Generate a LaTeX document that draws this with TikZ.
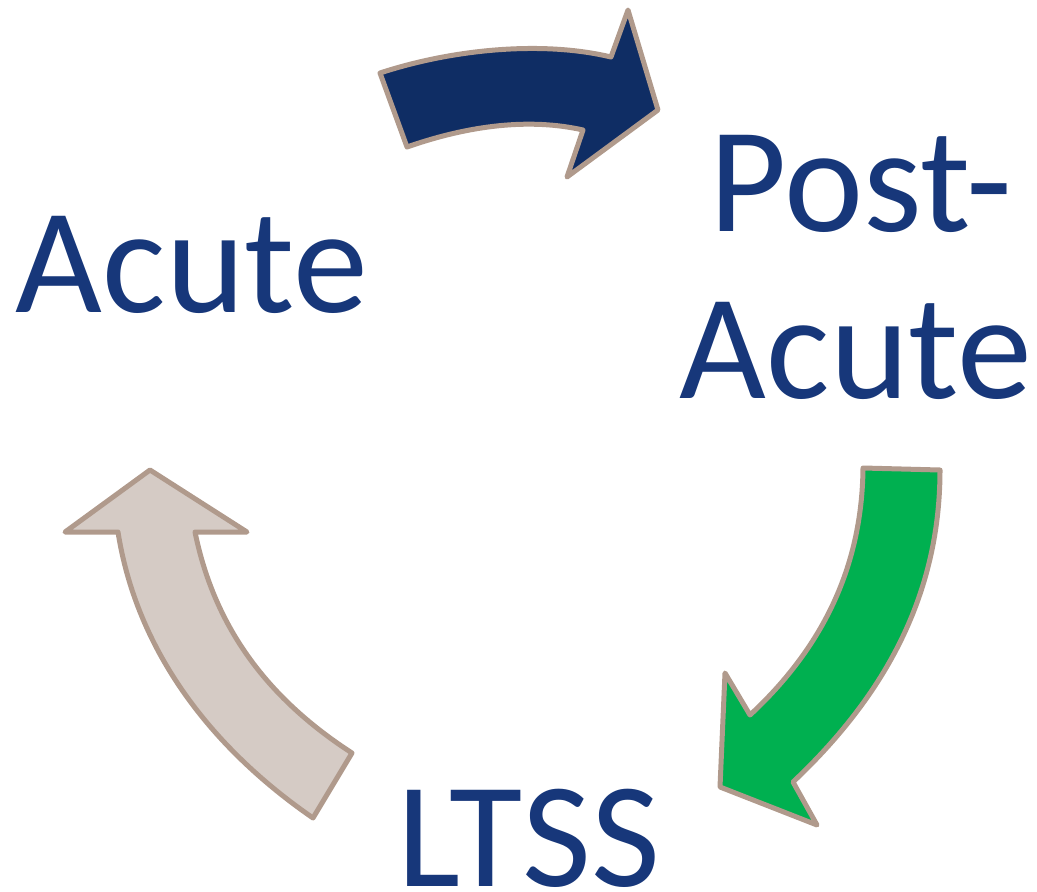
\documentclass[tikz,border=0pt]{standalone}
\usepackage{fontspec}
\setmainfont{Carlito}
\definecolor{txtblue}{HTML}{17377A}
\definecolor{navyfill}{HTML}{0F2D64}
\definecolor{greenfill}{HTML}{00B050}
\definecolor{beigefill}{HTML}{D5CBC5}
\definecolor{rim}{HTML}{B09A8C}
\begin{document}
\begin{tikzpicture}[x=1bp,y=-1bp,
  lbl/.style={text=txtblue,inner sep=0pt,anchor=base,font=\fontsize{150bp}{167bp}\selectfont},
  bigarrow/.style={draw=rim,line width=5bp,line join=round}]
\useasboundingbox (0,0) rectangle (1037,892);
% labels
\node[lbl] (acute) at (192,312) {Acute};
\node[lbl] (posta) at (861,231) {Post-};
\node[lbl] (postb) at (856,398) {Acute};
\node[lbl] (ltss) at (529,886) {LTSS};
% top navy arrow (Acute -> Post-Acute)
\path[bigarrow,fill=navyfill]
  (380,73) .. controls (450,50) and (540,40) .. (611,57)
  -- (628,10) -- (658,110) -- (567,177) -- (583,130)
  .. controls (530,118) and (470,125) .. (407,147) -- cycle;
% right green arrow (Post-Acute -> LTSS)
\path[bigarrow,fill=greenfill]
  (863,468) -- (940,470)
  .. controls (940,600) and (880,700) .. (793,782)
  -- (817,825) -- (720,787) -- (725,673) -- (750,715)
  .. controls (820,650) and (862,570) .. (863,468) -- cycle;
% left beige arrow (LTSS -> Acute)
\path[bigarrow,fill=beigefill]
  (150,470) -- (247,532) -- (195,532)
  .. controls (215,630) and (270,700) .. (352,753)
  -- (313,818)
  .. controls (200,740) and (135,640) .. (118,532)
  -- (65,532) -- cycle;
\end{tikzpicture}
\end{document}
